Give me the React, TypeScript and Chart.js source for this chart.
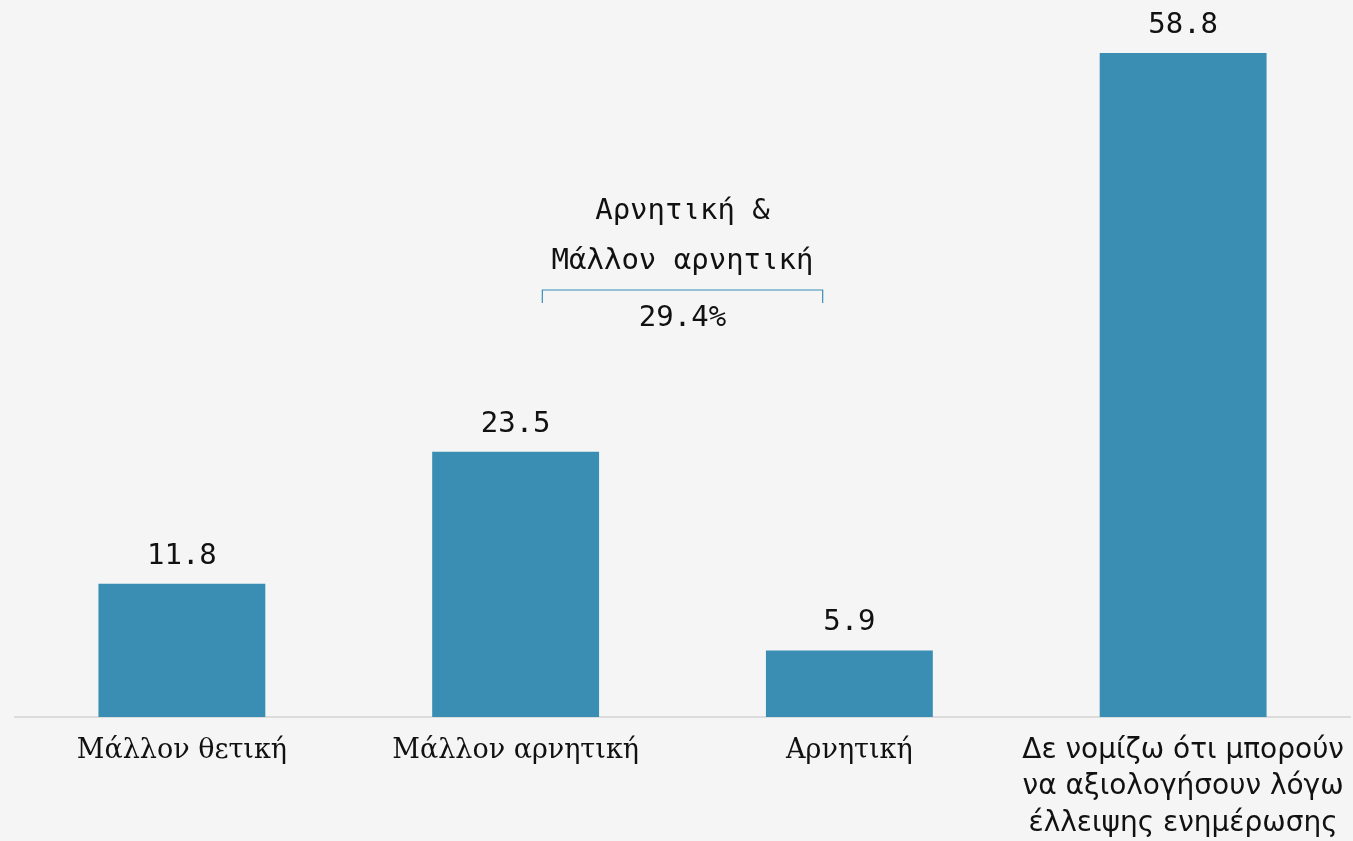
import React, { useEffect, useRef } from "react";
import { Chart, registerables } from "chart.js";

Chart.register(...registerables);

const categories: (string | string[])[] = [
  "Μάλλον θετική",
  "Μάλλον αρνητική",
  "Αρνητική",
  ["Δε νομίζω ότι μπορούν", "να αξιολογήσουν λόγω", "έλλειψης ενημέρωσης"],
];
const values: number[] = [11.8, 23.5, 5.9, 58.8];
const bracketLabelLines: string[] = ["Αρνητική &", "Μάλλον αρνητική"];
const bracketValue = "29.4%";
const bracketFrom = 1;
const bracketTo = 2;

const BAR = "#3a8eb4";
const BG = "#f5f5f5";
const MONO = "'DejaVu Sans Mono', monospace";

const labelPlugin = {
  id: "valueLabels",
  afterDatasetsDraw(chart: any) {
    const ctx = chart.ctx;
    const meta = chart.getDatasetMeta(0);
    ctx.save();
    ctx.fillStyle = "#111";
    ctx.font = `29px ${MONO}`;
    ctx.textAlign = "center";
    ctx.textBaseline = "alphabetic";
    meta.data.forEach((bar: any, i: number) => {
      ctx.fillText(values[i].toFixed(1), bar.x, bar.y - 20);
    });

    // bracket annotation
    const xs = chart.scales.x;
    const x1 = xs.getPixelForValue(bracketFrom);
    const x2 = xs.getPixelForValue(bracketTo);
    const mid = (x1 + x2) / 2;
    const half = (x2 - x1) * 0.42;
    const yb = 290;
    ctx.strokeStyle = BAR;
    ctx.lineWidth = 1.2;
    ctx.beginPath();
    ctx.moveTo(mid - half, yb + 13);
    ctx.lineTo(mid - half, yb);
    ctx.lineTo(mid + half, yb);
    ctx.lineTo(mid + half, yb + 13);
    ctx.stroke();
    ctx.fillText(bracketLabelLines[0], mid, 219);
    ctx.fillText(bracketLabelLines[1], mid, 269);
    ctx.fillText(bracketValue, mid, 326);
    ctx.restore();
  },
};

const bgPlugin = {
  id: "bg",
  beforeDraw(chart: any) {
    const ctx = chart.ctx;
    ctx.save();
    ctx.fillStyle = BG;
    ctx.fillRect(0, 0, chart.width, chart.height);
    ctx.restore();
  },
};

export default function App() {
  const ref = useRef<HTMLCanvasElement>(null);
  useEffect(() => {
    document.body.style.margin = "0";
    document.body.style.background = BG;
    const chart = new Chart(ref.current!, {
      type: "bar",
      data: {
        labels: categories as any,
        datasets: [
          {
            data: values,
            backgroundColor: BAR,
            categoryPercentage: 1,
            barPercentage: 0.5,
          },
        ],
      },
      options: {
        animation: false,
        responsive: false,
        maintainAspectRatio: false,
        layout: { padding: { left: 15, right: 3, top: 0, bottom: 0 } },
        plugins: { legend: { display: false }, tooltip: { enabled: false } },
        scales: {
          x: {
            grid: { display: false },
            border: { display: true, color: "#dcdcdc", width: 2 },
            ticks: {
              color: "#111",
              padding: 8,
              maxRotation: 0,
              autoSkip: false,
              font: (c: any) =>
                c.index === 3
                  ? { family: "'DejaVu Sans', sans-serif", size: 28, lineHeight: 1.29 }
                  : { family: "'DejaVu Serif', serif", size: 27, lineHeight: 1.33 },
            },
            afterFit(scale: any) {
              scale.height = 124;
            },
          },
          y: {
            display: false,
            min: 0,
            max: 63.5,
          },
        },
      },
      plugins: [bgPlugin, labelPlugin],
    });
    return () => chart.destroy();
  }, []);
  return (
    <div style={{ position: "absolute", left: 0, top: 0, width: 1353, height: 841, background: BG }}>
      <canvas ref={ref} width={1353} height={841} style={{ display: "block" }} />
    </div>
  );
}
